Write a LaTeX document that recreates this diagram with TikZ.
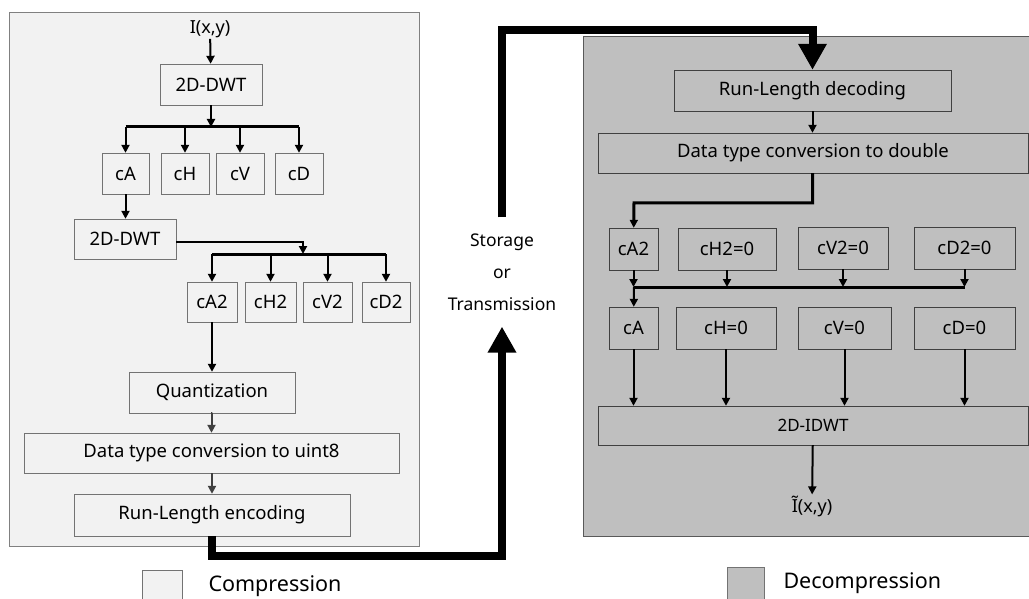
\documentclass[tikz,border=0pt]{standalone}
\usepackage{fontspec}
\setmainfont{Noto Sans}
\usepackage{tikz}
\usetikzlibrary{arrows.meta}

\definecolor{compfill}{HTML}{F2F2F2}
\definecolor{decompfill}{HTML}{BFBFBF}

\begin{document}
\begin{tikzpicture}[x=1pt, y=-1pt,
        lbox/.style={draw=black!55, rectangle, inner sep=0pt, font=\fontsize{18.5}{21}\selectfont},
        rbox/.style={draw=black!75, rectangle, inner sep=0pt, font=\fontsize{18.5}{21}\selectfont},
        arr/.style={-{Triangle[length=8pt,width=8pt]}, line width=2pt},
        bar/.style={line width=3pt},
        big/.style={line width=8pt, -{Triangle[length=26pt,width=27pt]}},
        txt/.style={inner sep=1pt, font=\fontsize{18}{21}\selectfont}]
    \clip (0,0) rectangle (1029,599);
    \draw[fill=compfill, draw=black!50] (9,12) rectangle (419,546);
    \draw[fill=decompfill, draw=black!65] (583,36) rectangle (1040,536);

    % compression
    \node[txt] (in) at (210,29) {I(x,y)};
    \node[lbox, minimum width=102pt, minimum height=41pt] (dwtA) at (211,84.5) {2D-DWT};
    \node[lbox, minimum width=47pt, minimum height=41pt] (cA) at (125.5,173.5) {cA};
    \node[lbox, minimum width=48pt, minimum height=41pt] (cH) at (185,173.5) {cH};
    \node[lbox, minimum width=48pt, minimum height=41pt] (cV) at (240,173.5) {cV};
    \node[lbox, minimum width=48pt, minimum height=41pt] (cD) at (299,173.5) {cD};
    \node[lbox, minimum width=102pt, minimum height=40pt] (dwtB) at (125,239) {2D-DWT};
    \node[lbox, minimum width=50pt, minimum height=40pt] (cAb) at (212,302) {cA2};
    \node[lbox, minimum width=51pt, minimum height=40pt] (cHb) at (270.5,302) {cH2};
    \node[lbox, minimum width=49pt, minimum height=40pt] (cVb) at (327.5,302) {cV2};
    \node[lbox, minimum width=48pt, minimum height=40pt] (cDb) at (386,302) {cD2};
    \node[lbox, minimum width=166pt, minimum height=41pt] (quant) at (212,392.5) {Quantization};
    \node[lbox, minimum width=375pt, minimum height=40pt] (conv8) at (211.5,453) {Data type conversion to uint8};
    \node[lbox, minimum width=276pt, minimum height=42pt] (rle) at (212,515) {Run-Length encoding};

    \coordinate (j1) at (211,127);
    \coordinate (j2) at (303,254);
    \draw[arr] (in) -- (dwtA);
    \draw[arr] (dwtA) -- (j1);
    \draw[bar] (j1 -| cA) -- (j1 -| cD);
    \foreach \n in {cA,cH,cV,cD}
        \draw[arr] (j1 -| \n) -- (\n);
    \draw[arr] (cA) -- (cA |- dwtB.north);
    \draw[arr] ([yshift=-3pt]dwtB.east) -| (j2);
    \draw[bar] (j2 -| cAb) -- (j2 -| cDb);
    \foreach \n in {cAb,cHb,cVb,cDb}
        \draw[arr] (j2 -| \n) -- (\n);
    \draw[arr] (cAb) -- (quant);
    \draw[arr, draw=black!75] (quant) -- (conv8 |- quant.south) -- (conv8);
    \draw[arr, draw=black!75] (rle |- conv8.south) -- (rle);

    % storage / transmission
    \node[inner ysep=16pt, align=center, font=\fontsize{17.5}{32}\selectfont] (store) at (502,272) {Storage\\or\\Transmission};

    % decompression
    \node[rbox, minimum width=277pt, minimum height=41pt] (rld) at (812.5,90.5) {Run-Length decoding};
    \node[rbox, minimum width=430pt, minimum height=40pt] (conv) at (813,153) {Data type conversion to double};
    \node[rbox, minimum width=49pt, minimum height=42pt] (rA2) at (633.5,249) {cA2};
    \node[rbox, minimum width=98pt, minimum height=42pt] (rH2) at (727,249) {cH2=0};
    \node[rbox, minimum width=90pt, minimum height=42pt] (rV2) at (843,248) {cV2=0};
    \node[rbox, minimum width=101pt, minimum height=42pt] (rD2) at (964.5,248) {cD2=0};
    \node[rbox, minimum width=49pt, minimum height=42pt] (rA) at (633.5,328) {cA};
    \node[rbox, minimum width=100pt, minimum height=42pt] (rH) at (726,328) {cH=0};
    \node[rbox, minimum width=93pt, minimum height=42pt] (rV) at (844.5,328) {cV=0};
    \node[rbox, minimum width=101pt, minimum height=42pt] (rD) at (964.5,328) {cD=0};
    \node[rbox, minimum width=430pt, minimum height=39pt, font=\fontsize{17}{20}\selectfont] (idwt) at (813,425.5) {2D-IDWT};
    \node[txt] (out) at (812,506) {Ĩ(x,y)};

    \coordinate (k1) at (634,203);
    \coordinate (k2) at (634,287);
    \draw[arr] (rld) -- (rld |- conv.north);
    \draw[arr, line width=3pt] (rld |- conv.south) |- (k1) -- (rA2);
    \foreach \n in {rA2,rH2,rV2,rD2}
        \draw[arr] (\n) -- (\n |- k2);
    \draw[bar] (k2) -- (k2 -| rD2);
    \draw[arr] (k2) -- (rA);
    \foreach \n in {rA,rH,rV,rD}
        \draw[arr] (\n) -- (\n |- idwt.north);
    \draw[arr] (idwt) -- (out);

    \draw[big] (rle.south) -- (rle.south |- 0,556) -| (store.south);
    \draw[big] (store.north) |- (rld.north |- 0,30) -- (rld.north);

    % legend
    \node[draw=black!55, fill=compfill, minimum width=40pt, minimum height=40pt] (legC) at (162,590) {};
    \node[anchor=west, font=\fontsize{21.5}{25}\selectfont] (legCtxt) at (205,586) {Compression};
    \node[draw=black!55, fill=decompfill, minimum width=37pt, minimum height=40pt] (legD) at (745.5,587) {};
    \node[anchor=west, font=\fontsize{21.5}{25}\selectfont] (legDtxt) at (780,583) {Decompression};
\end{tikzpicture}
\end{document}
